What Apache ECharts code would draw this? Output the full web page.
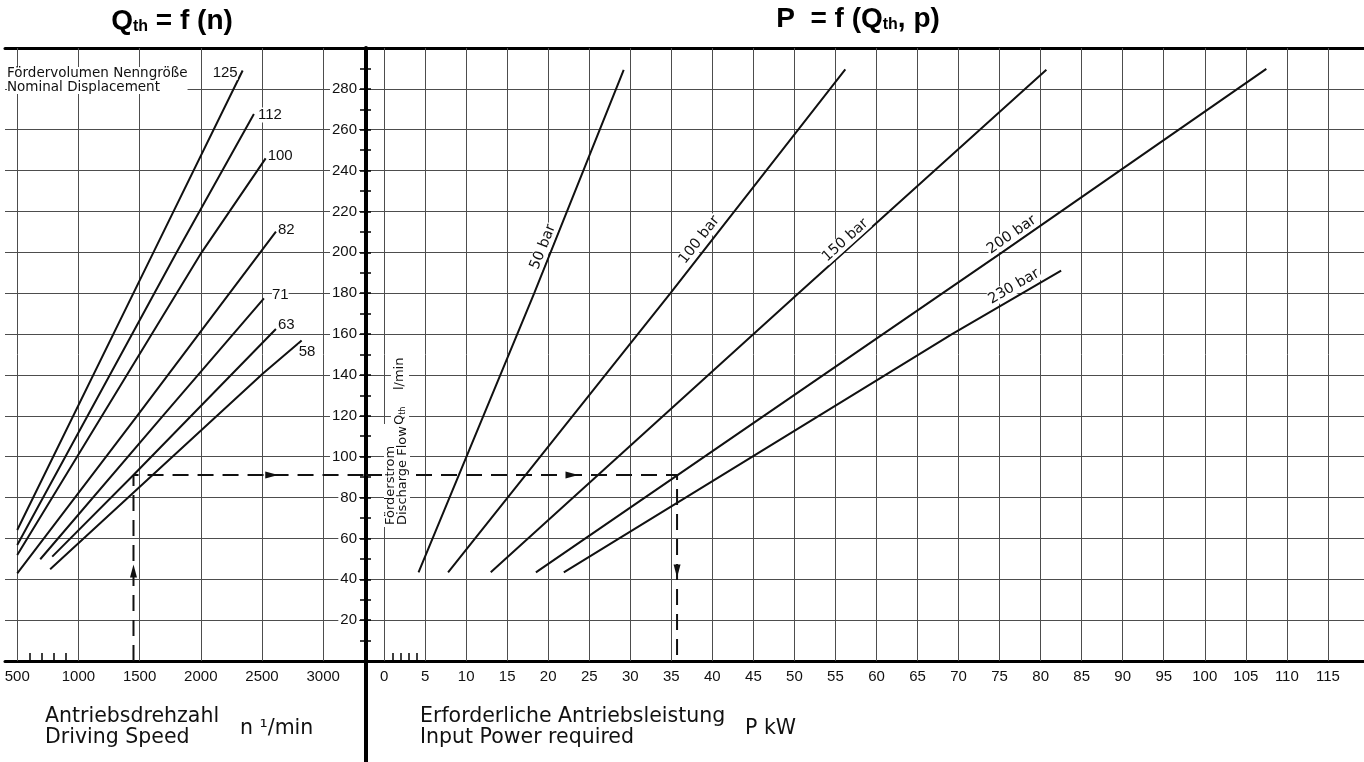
<!DOCTYPE html>
<html>
<head>
<meta charset="utf-8">
<script src="https://cdn.jsdelivr.net/npm/echarts@6/dist/echarts.min.js"></script>
<style>
html,body{margin:0;padding:0;background:#fff;}
#c{width:1364px;height:762px;}
</style>
</head>
<body>
<div id="c"></div>
<script>
// ---------- data ----------
const speedTicks = [500, 1000, 1500, 2000, 2500, 3000];
const speedMinorTicks = [600, 700, 800, 900];
const powerTicks = [0, 5, 10, 15, 20, 25, 30, 35, 40, 45, 50, 55, 60, 65, 70, 75, 80, 85, 90, 95, 100, 105, 110, 115];
const powerMinorTicks = [1, 2, 3, 4];
const flowTickLabels = [20, 40, 60, 80, 100, 120, 140, 160, 180, 200, 220, 240, 260, 280];

const displacementNames = ['125', '112', '100', '82', '71', '63', '58'];
const flow125 = [[500, 64.1], [1613, 200], [2342, 289]];
const flow112 = [[500, 56.8], [1803, 200], [2434, 267.7]];
const flow100 = [[500, 51.9], [2007, 200], [2530, 246]];
const flow82  = [[500, 42.9], [1480, 120], [2614, 210.1]];
const flow71  = [[688, 49.8], [1690, 120], [2516, 177.5]];
const flow63  = [[786, 51.1], [1450, 91], [2614, 162.5]];
const flow58  = [[769, 44.9], [2510, 140.8], [2824, 156.8]];

const pressureNames = ['50 bar', '100 bar', '150 bar', '200 bar', '230 bar'];
const power50  = [[4.2, 43.4], [18.3, 180], [29.2, 289.3]];
const power100 = [[7.8, 43.4], [34.9, 180], [56.2, 289.5]];
const power150 = [[13.0, 43.4], [50.5, 180], [80.7, 289.3]];
const power200 = [[18.5, 43.4], [75.3, 200], [107.5, 289.8]];
const power230 = [[21.9, 43.4], [69.2, 160], [82.5, 191]];

const exampleSpeed = 1450;
const exampleFlow = 91;
const examplePower = 35.7;

// ---------- layout / style ----------
const SPEED_MIN = 400, SPEED_MAX = 3350;
const POWER_MIN = -2.2, POWER_MAX = 119.4;
const FLOW_MIN = 0, FLOW_MAX = 300;
const GRID_COLOR = '#4d4d4d';
const INK = '#111';
const NUM_FONT = "'Liberation Sans Narrow', 'Liberation Sans', Arial, sans-serif";
const TXT_FONT = "'DejaVu Sans', sans-serif";

const leftCurves = [flow125, flow112, flow100, flow82, flow71, flow63, flow58];
const rightCurves = [power50, power100, power150, power200, power230];

const gridLineStyle = {color: GRID_COLOR, width: 1, type: 'solid'};
const plain = v => String(v);

function xAxisBase(grid, min, max) {
  return {gridIndex: grid, type: 'value', min: min, max: max, splitLine: {show: false}};
}

const option = {
  animation: false,
  backgroundColor: '#fff',
  grid: [
    {left: 5, top: 48, width: 361, height: 613},
    {left: 366, top: 48, width: 998, height: 613}
  ],
  xAxis: [
    Object.assign(xAxisBase(0, SPEED_MIN, SPEED_MAX), {
      position: 'bottom',
      axisLine: {show: true, onZero: false, lineStyle: {color: '#000', width: 3}},
      axisTick: {show: true, inside: true, length: 8, customValues: speedMinorTicks, lineStyle: {color: '#000', width: 1.5}},
      axisLabel: {show: true, customValues: speedTicks, formatter: plain, color: INK, fontSize: 15, fontFamily: NUM_FONT, margin: 8}
    }),
    Object.assign(xAxisBase(1, POWER_MIN, POWER_MAX), {
      position: 'bottom',
      axisLine: {show: true, onZero: false, lineStyle: {color: '#000', width: 3}},
      axisTick: {show: true, inside: true, length: 8, customValues: powerMinorTicks, lineStyle: {color: '#000', width: 1.5}},
      axisLabel: {show: true, customValues: powerTicks, formatter: plain, color: INK, fontSize: 15, fontFamily: NUM_FONT, margin: 8}
    }),
    Object.assign(xAxisBase(0, SPEED_MIN, SPEED_MAX), {
      position: 'top',
      axisLine: {show: true, onZero: false, lineStyle: {color: '#000', width: 3}},
      axisTick: {show: false}, axisLabel: {show: false}
    }),
    Object.assign(xAxisBase(1, POWER_MIN, POWER_MAX), {
      position: 'top',
      axisLine: {show: true, onZero: false, lineStyle: {color: '#000', width: 3}},
      axisTick: {show: false}, axisLabel: {show: false}
    })
  ],
  yAxis: [
    {gridIndex: 0, type: 'value', min: FLOW_MIN, max: FLOW_MAX, interval: 20, position: 'right',
      axisLine: {show: false, onZero: false}, axisTick: {show: false}, axisLabel: {show: false},
      splitLine: {show: true, lineStyle: gridLineStyle}},
    {gridIndex: 0, type: 'value', min: FLOW_MIN, max: FLOW_MAX, interval: 20, position: 'right', z: 4,
      axisLine: {show: false, onZero: false},
      axisTick: {show: true, inside: false, length: 5, lineStyle: {color: '#000', width: 1.5}},
      minorTick: {show: true, splitNumber: 2, length: 5, lineStyle: {color: '#000', width: 1.5}},
      axisLabel: {show: true, inside: true, margin: 7, color: INK, fontSize: 15, fontFamily: NUM_FONT,
        backgroundColor: '#fff', padding: [0, 2],
        formatter: v => flowTickLabels.indexOf(v) >= 0 ? String(v) : ''},
      splitLine: {show: false}},
    {gridIndex: 1, type: 'value', min: FLOW_MIN, max: FLOW_MAX, interval: 20, position: 'left',
      axisLine: {show: true, onZero: false, lineStyle: {color: '#000', width: 4}},
      axisTick: {show: true, inside: false, length: 6, lineStyle: {color: '#000', width: 1.5}},
      minorTick: {show: true, splitNumber: 2, length: 6, lineStyle: {color: '#000', width: 1.5}},
      axisLabel: {show: false},
      splitLine: {show: true, lineStyle: gridLineStyle}}
  ],
  series: []
};

const vGridMarks = (vals) => ({
  silent: true, symbol: ['none', 'none'], z: 1,
  label: {show: false}, emphasis: {disabled: true},
  lineStyle: gridLineStyle,
  data: vals.map(v => ({xAxis: v}))
});

leftCurves.forEach((d, i) => {
  const s = {
    name: displacementNames[i], type: 'line', xAxisIndex: 0, yAxisIndex: 0, data: d,
    showSymbol: false, symbol: 'none', silent: true, z: 3,
    lineStyle: {color: INK, width: 2}
  };
  if (i === 0) s.markLine = vGridMarks(speedTicks);
  option.series.push(s);
});
option.series.push({
  name: 'example-n', type: 'line', xAxisIndex: 0, yAxisIndex: 0, silent: true, z: 3,
  data: [[exampleSpeed, 0], [exampleSpeed, exampleFlow], [SPEED_MAX, exampleFlow]],
  showSymbol: false, symbol: 'none',
  lineStyle: {color: INK, width: 2, type: [16, 9]},
  markPoint: {silent: true, symbol: 'triangle', symbolSize: [7, 13], itemStyle: {color: INK}, label: {show: false},
    data: [{coord: [exampleSpeed, 44], symbolRotate: 0}, {coord: [2580, exampleFlow], symbolRotate: -90}]}
});
const rightStart = option.series.length;
rightCurves.forEach((d, i) => {
  const s = {
    name: pressureNames[i], type: 'line', xAxisIndex: 1, yAxisIndex: 2, data: d,
    showSymbol: false, symbol: 'none', silent: true, z: 3,
    lineStyle: {color: INK, width: 2}
  };
  if (i === 0) s.markLine = vGridMarks(powerTicks);
  option.series.push(s);
});
option.series.push({
  name: 'example-P', type: 'line', xAxisIndex: 1, yAxisIndex: 2, silent: true, z: 3,
  data: [[POWER_MIN, exampleFlow], [examplePower, exampleFlow], [examplePower, 0]],
  showSymbol: false, symbol: 'none',
  lineStyle: {color: INK, width: 2, type: [16, 9]},
  markPoint: {silent: true, symbol: 'triangle', symbolSize: [7, 13], itemStyle: {color: INK}, label: {show: false},
    data: [{coord: [22.9, exampleFlow], symbolRotate: -90}, {coord: [examplePower, 44], symbolRotate: 180}]}
});

const chart = echarts.init(document.getElementById('c'), null, {renderer: 'canvas', width: 1364, height: 762});
chart.setOption(option);

// ---------- annotations positioned through the axes ----------
const graphics = [];
const leftLabelOffset = [[-30, 2], [4, 1], [2, -2], [2, -2], [8, -3], [2, -4], [-3, 11]];
leftCurves.forEach((d, i) => {
  const p = chart.convertToPixel({seriesIndex: i}, d[d.length - 1]);
  graphics.push({type: 'text', x: p[0] + leftLabelOffset[i][0], y: p[1] + leftLabelOffset[i][1], z: 10,
    style: {text: displacementNames[i], font: '15px ' + NUM_FONT, fill: INK, align: 'left', verticalAlign: 'middle',
      backgroundColor: '#fff'}});
});

const rightLabelFlow = [201, 203, 203, 205, 179];
const rightLabelLift = [9, 10, 8, 9, 10];
rightCurves.forEach((d, i) => {
  const si = rightStart + i;
  const pts = d.map(p => chart.convertToPixel({seriesIndex: si}, p));
  const yq = chart.convertToPixel({seriesIndex: si}, [0, rightLabelFlow[i]])[1];
  let k = 0;
  while (k < pts.length - 2 && pts[k + 1][1] > yq) k++;
  const a = pts[k], b = pts[k + 1];
  const t = (yq - a[1]) / (b[1] - a[1]);
  const x = a[0] + t * (b[0] - a[0]);
  const ang = Math.atan2(a[1] - b[1], b[0] - a[0]);
  const lift = rightLabelLift[i];
  graphics.push({type: 'text', x: x - Math.sin(ang) * lift, y: yq - Math.cos(ang) * lift, rotation: ang, z: 10,
    style: {text: pressureNames[i], font: '14.5px ' + TXT_FONT, fill: INK, align: 'center', verticalAlign: 'middle',
      backgroundColor: '#fff', padding: [0, 1]}});
});

// titles
graphics.push({type: 'text', x: 172, y: 21, z: 10, style: {
  text: '{b|Q}{s|th}{b| = f (n)}', align: 'center', verticalAlign: 'middle', fill: '#000',
  rich: {b: {font: 'bold 28px Liberation Sans', fill: '#000'}, s: {font: 'bold 16px Liberation Sans', fill: '#000', padding: [12, 0, 0, 0]}}
}});
graphics.push({type: 'text', x: 858, y: 19, z: 10, style: {
  text: '{b|P  = f (Q}{s|th}{b|, p)}', align: 'center', verticalAlign: 'middle', fill: '#000',
  rich: {b: {font: 'bold 28px Liberation Sans', fill: '#000'}, s: {font: 'bold 16px Liberation Sans', fill: '#000', padding: [12, 0, 0, 0]}}
}});
// inner legend text
graphics.push({type: 'text', x: 7, y: 67, z: 10, style: {
  text: 'Fördervolumen Nenngröße\nNominal Displacement', font: '13.5px ' + TXT_FONT, lineHeight: 13.5,
  fill: INK, align: 'left', verticalAlign: 'top', backgroundColor: '#fff'}});
// vertical axis titles (right panel)
graphics.push({type: 'text', x: 400, y: 428, rotation: Math.PI / 2, z: 10, style: {
  text: '{q|Q}{s|th}{u|    l/min}', align: 'left', verticalAlign: 'middle', backgroundColor: '#fff', padding: [2, 3],
  rich: {q: {font: '13px ' + TXT_FONT, fill: INK}, s: {font: '8px ' + TXT_FONT, fill: INK, padding: [6, 0, 0, 0]}, u: {font: '13px ' + TXT_FONT, fill: INK}}
}});
graphics.push({type: 'text', x: 397, y: 527, rotation: Math.PI / 2, z: 10, style: {
  text: 'Förderstrom\nDischarge Flow', font: '13px ' + TXT_FONT, lineHeight: 12, fill: INK,
  align: 'left', verticalAlign: 'middle', backgroundColor: '#fff', padding: [1, 2]}});
// bottom axis titles
graphics.push({type: 'text', x: 45, y: 706, z: 10, style: {
  text: 'Antriebsdrehzahl\nDriving Speed', font: '20.5px ' + TXT_FONT, lineHeight: 21, fill: INK, align: 'left', verticalAlign: 'top'}});
graphics.push({type: 'text', x: 240, y: 729, z: 10, style: {
  text: 'n ¹/min', font: '20.5px ' + TXT_FONT, fill: INK, align: 'left', verticalAlign: 'middle'}});
graphics.push({type: 'text', x: 420, y: 706, z: 10, style: {
  text: 'Erforderliche Antriebsleistung\nInput Power required', font: '20.5px ' + TXT_FONT, lineHeight: 21, fill: INK, align: 'left', verticalAlign: 'top'}});
graphics.push({type: 'text', x: 745, y: 729, z: 10, style: {
  text: 'P kW', font: '20.5px ' + TXT_FONT, fill: INK, align: 'left', verticalAlign: 'middle'}});
// divider continuation below the baseline
const base = chart.convertToPixel({seriesIndex: rightStart}, [POWER_MIN, FLOW_MIN]);
graphics.push({type: 'line', z: 10, shape: {x1: base[0], y1: base[1], x2: base[0], y2: 762},
  style: {stroke: '#000', lineWidth: 4}});

chart.setOption({graphic: graphics});
</script>
</body>
</html>
